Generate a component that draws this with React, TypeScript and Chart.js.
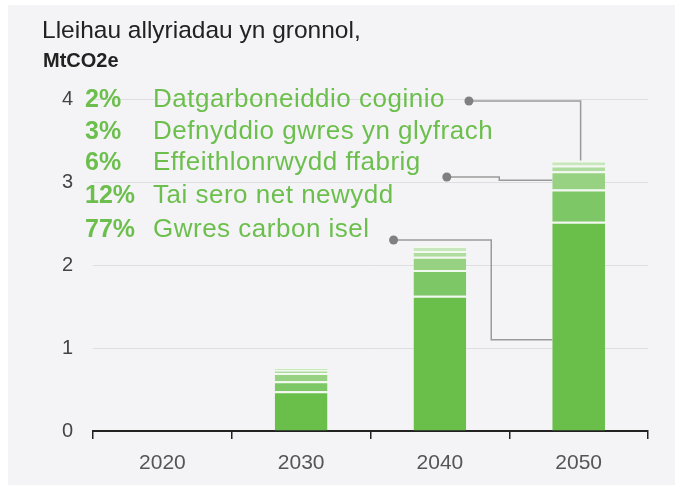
import React, { useEffect, useRef } from "react";
import { Chart, registerables } from "chart.js";

Chart.register(...registerables);

// ---- data ----
const years = ["2020", "2030", "2040", "2050"];
const lowCarbonHeat = [0, 0.48, 1.63, 2.52];
const newNetZeroHomes = [0, 0.12, 0.31, 0.39];
const fabricEfficiency = [0, 0.1, 0.16, 0.22];
const smarterHeatUse = [0, 0.035, 0.07, 0.07];
const cookingDecarb = [0, 0.025, 0.06, 0.06];

const seriesNames = [
  "Gwres carbon isel",
  "Tai sero net newydd",
  "Effeithlonrwydd ffabrig",
  "Defnyddio gwres yn glyfrach",
  "Datgarboneiddio coginio",
];
const seriesShares = ["77%", "12%", "6%", "3%", "2%"];
const seriesColors = ["#6abf4b", "#7dc766", "#97d282", "#afdc9f", "#c8e7bc"];
const yTicks = [0, 1, 2, 3, 4];
const titleLine1 = "Lleihau allyriadau yn gronnol,";
const titleLine2 = "MtCO2e";

const FONT = '"Liberation Sans", Arial, Helvetica, sans-serif';
const GREEN_TEXT = "#6cbf4d";

const overlay = {
  id: "overlay",
  beforeDraw(chart: any) {
    const ctx = chart.ctx;
    ctx.save();
    ctx.fillStyle = "#ffffff";
    ctx.fillRect(0, 0, chart.width, chart.height);
    ctx.fillStyle = "#f4f4f6";
    ctx.fillRect(8, 5, chart.width - 13, chart.height - 7);
    ctx.restore();
  },
  afterDraw(chart: any) {
    const ctx = chart.ctx;
    const yScale = chart.scales.y;
    ctx.save();

    // title
    ctx.textBaseline = "alphabetic";
    ctx.textAlign = "left";
    ctx.fillStyle = "#222222";
    ctx.font = `24.5px ${FONT}`;
    ctx.fillText(titleLine1, 42, 38);
    ctx.font = `bold 20px ${FONT}`;
    ctx.fillText(titleLine2, 43, 67);

    // legend rows (top -> bottom = last dataset -> first)
    const baselines = [107, 139, 170, 203, 237];
    const textEnds: number[] = [];
    for (let r = 0; r < 5; r++) {
      const i = 4 - r;
      ctx.fillStyle = GREEN_TEXT;
      ctx.font = `bold 25px ${FONT}`;
      (ctx as any).letterSpacing = "0px";
      ctx.fillText(seriesShares[i], 85, baselines[r]);
      ctx.font = `26px ${FONT}`;
      (ctx as any).letterSpacing = "0.5px";
      ctx.fillText(seriesNames[i], 153, baselines[r]);
      textEnds.push(153 + ctx.measureText(seriesNames[i]).width);
    }
    (ctx as any).letterSpacing = "0px";

    // leader lines to the 2050 bar
    const last = years.length - 1;
    const bar2050 = chart.getDatasetMeta(4).data[last];
    const bar2040 = chart.getDatasetMeta(0).data[last - 1];
    const barLeft = bar2050.x - bar2050.width / 2;
    const midX = (bar2040.x + bar2040.width / 2 + barLeft) / 2;
    const fabric = chart.getDatasetMeta(2).data[last];

    ctx.strokeStyle = "#9a9a9a";
    ctx.lineWidth = 1.5;
    ctx.fillStyle = "#808080";

    const dot = (x: number, y: number) => {
      ctx.beginPath();
      ctx.arc(x, y, 4.5, 0, Math.PI * 2);
      ctx.fill();
    };

    // row 0 (2%)
    let dx = textEnds[0] + 24;
    let dy = 101;
    ctx.beginPath();
    ctx.moveTo(dx, dy);
    ctx.lineTo(bar2050.x + 2, dy);
    ctx.lineTo(bar2050.x + 2, bar2050.y);
    ctx.stroke();
    dot(dx, dy);

    // row 2 (6%)
    dx = textEnds[2] + 26;
    dy = 177;
    const ty2 = (fabric.y + fabric.base) / 2;
    ctx.beginPath();
    ctx.moveTo(dx, dy);
    ctx.lineTo(midX - 10, dy);
    ctx.lineTo(midX - 10, ty2);
    ctx.lineTo(barLeft, ty2);
    ctx.stroke();
    dot(dx, dy);

    // row 4 (77%)
    dx = textEnds[4] + 24;
    dy = 240;
    const ty4 = yScale.getPixelForValue(1.1);
    ctx.beginPath();
    ctx.moveTo(dx, dy);
    ctx.lineTo(midX - 18, dy);
    ctx.lineTo(midX - 18, ty4);
    ctx.lineTo(barLeft, ty4);
    ctx.stroke();
    dot(dx, dy);

    ctx.restore();
  },
};

export default function App() {
  const ref = useRef<HTMLCanvasElement | null>(null);

  useEffect(() => {
    document.body.style.margin = "0";
    const canvas = ref.current!;
    const seriesData = [lowCarbonHeat, newNetZeroHomes, fabricEfficiency, smarterHeatUse, cookingDecarb];
    const chart = new Chart(canvas, {
      type: "bar",
      data: {
        labels: years,
        datasets: seriesData.map((d, i) => ({
          label: seriesNames[i],
          data: d,
          backgroundColor: seriesColors[i],
          borderColor: "#f2f9ee",
          borderWidth: { top: 2, bottom: 0, left: 0, right: 0 },
          borderSkipped: false,
          categoryPercentage: 1,
          barPercentage: 0.38,
        })),
      },
      options: {
        responsive: false,
        animation: false,
        devicePixelRatio: 1,
        layout: { padding: { left: 0, right: 32, top: 99, bottom: 0 } },
        plugins: { legend: { display: false }, tooltip: { enabled: false }, title: { display: false } },
        scales: {
          x: {
            stacked: true,
            offset: true,
            afterFit: (axis: any) => {
              axis.height = 56;
            },
            grid: {
              offset: true,
              drawOnChartArea: false,
              drawTicks: true,
              tickLength: 8,
              color: "#222222",
              lineWidth: 1.5,
            },
            border: { display: true, color: "#222222", width: 2 },
            ticks: {
              color: "#555555",
              font: { family: FONT, size: 21 },
              padding: 12,
            },
          },
          y: {
            stacked: true,
            min: yTicks[0],
            max: yTicks[yTicks.length - 1],
            afterFit: (axis: any) => {
              axis.width = 93;
            },
            afterBuildTicks: (axis: any) => {
              axis.ticks = yTicks.map((v) => ({ value: v }));
            },
            grid: { color: "#dedee0", lineWidth: 1, drawTicks: false },
            border: { display: false },
            ticks: {
              color: "#444444",
              font: { family: FONT, size: 20 },
              padding: 20,
            },
          },
        },
      },
      plugins: [overlay],
    });
    return () => chart.destroy();
  }, []);

  return (
    <div style={{ width: 680, height: 487 }}>
      <canvas ref={ref} width={680} height={487} style={{ display: "block", width: 680, height: 487 }} />
    </div>
  );
}
